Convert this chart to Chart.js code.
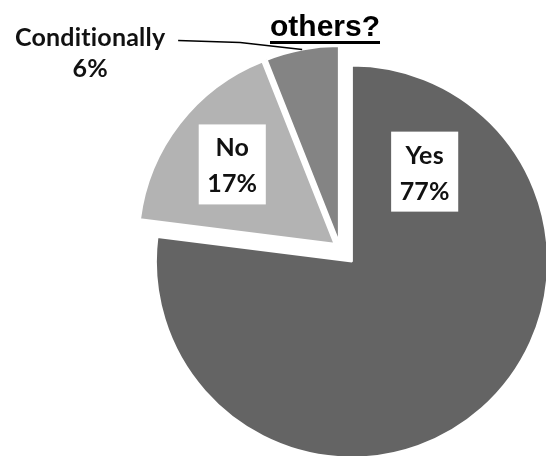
<!DOCTYPE html>
<html>
<head>
<meta charset="utf-8">
<script src="https://cdn.jsdelivr.net/npm/chart.js@4"></script>
<style>
    body { margin: 0; background: #fff; }
    #wrap { position: relative; width: 546px; height: 456px; }
</style>
</head>
<body>
<div id="wrap"><canvas id="pieChart"></canvas></div>
<script>
const categories = ['Yes', 'No', 'Conditionally'];
const shares = [77, 17, 6];
const titleText = 'others?';

const SLICE_COLORS = ['#646464', '#b3b3b3', '#848484'];
const EXPLODE = [18, 7, 6];
const LABEL_FONT = 'bold 25px Lato, "Open Sans", sans-serif';

// how each slice label sits: boxed inside the slice or outside with a leader line
const LABEL_PLACE = [
    { angle: -51 * Math.PI / 180, frac: 0.59 },
    { frac: 0.66 },
    { leader: true }
];

function sliceGeometry(arc, i) {
    const mid = (arc.startAngle + arc.endAngle) / 2;
    return {
        mid: mid,
        x: arc.x + Math.cos(mid) * EXPLODE[i],
        y: arc.y + Math.sin(mid) * EXPLODE[i],
        r: arc.outerRadius
    };
}

// draws each slice pulled away from the centre along its middle angle
const explodePlugin = {
    id: 'explode',
    beforeDatasetDraw(chart, args) {
        const ctx = chart.ctx;
        args.meta.data.forEach((arc, i) => {
            const g = sliceGeometry(arc, i);
            ctx.save();
            ctx.translate(g.x - arc.x, g.y - arc.y);
            arc.draw(ctx);
            ctx.restore();
        });
        return false;
    }
};

const labelPlugin = {
    id: 'sliceLabels',
    afterDatasetsDraw(chart) {
        const ctx = chart.ctx;
        const meta = chart.getDatasetMeta(0);
        ctx.save();
        ctx.font = LABEL_FONT;
        ctx.letterSpacing = '0.2px'; // keeps "ti" from turning into a ligature
        ctx.textAlign = 'center';
        ctx.textBaseline = 'alphabetic';

        meta.data.forEach((arc, i) => {
            const g = sliceGeometry(arc, i);
            const place = LABEL_PLACE[i];
            const lines = [categories[i], shares[i] + '%'];

            if (place.leader) {
                const sx = g.x + Math.cos(g.mid) * g.r;
                const sy = g.y + Math.sin(g.mid) * g.r;
                const ex = sx - 62, ey = sy - 7;
                const tx = ex - 62, ty = ey - 2;
                ctx.strokeStyle = '#000';
                ctx.lineWidth = 1.5;
                ctx.beginPath();
                ctx.moveTo(sx, sy);
                ctx.lineTo(ex, ey);
                ctx.lineTo(tx, ty);
                ctx.stroke();
                ctx.fillStyle = '#111';
                ctx.fillText(lines[0], tx - 88, ty + 5);
                ctx.fillText(lines[1], tx - 88, ty + 36);
                return;
            }

            const a = place.angle !== undefined ? place.angle : g.mid;
            const cx = g.x + Math.cos(a) * g.r * place.frac;
            const cy = g.y + Math.sin(a) * g.r * place.frac;
            const w = Math.max(...lines.map(t => ctx.measureText(t).width)) + 17;
            const h = 80;
            ctx.fillStyle = '#fff';
            ctx.fillRect(cx - w / 2, cy - h / 2, w, h);
            ctx.fillStyle = '#111';
            ctx.fillText(lines[0], cx, cy - 8);
            ctx.fillText(lines[1], cx, cy + 28);
        });

        // title, underlined
        ctx.letterSpacing = '0px';
        ctx.font = 'bold 30px "Liberation Sans", Arial, sans-serif';
        ctx.fillStyle = '#000';
        const titleX = 325, titleY = 36;
        ctx.fillText(titleText, titleX, titleY);
        const tw = ctx.measureText(titleText).width;
        ctx.fillRect(titleX - tw / 2, titleY + 5, tw, 3);
        ctx.restore();
    }
};

new Chart(document.getElementById('pieChart'), {
    type: 'pie',
    data: {
        labels: categories,
        datasets: [{
            data: shares,
            backgroundColor: SLICE_COLORS,
            borderColor: '#ffffff',
            borderWidth: 2
        }]
    },
    options: {
        responsive: true,
        maintainAspectRatio: false,
        animation: false,
        radius: 196,
        layout: {
            padding: { left: 134, right: 0, top: 40, bottom: 0 }
        },
        plugins: {
            legend: { display: false },
            tooltip: { enabled: false },
            title: { display: false }
        }
    },
    plugins: [explodePlugin, labelPlugin]
});
</script>
</body>
</html>
